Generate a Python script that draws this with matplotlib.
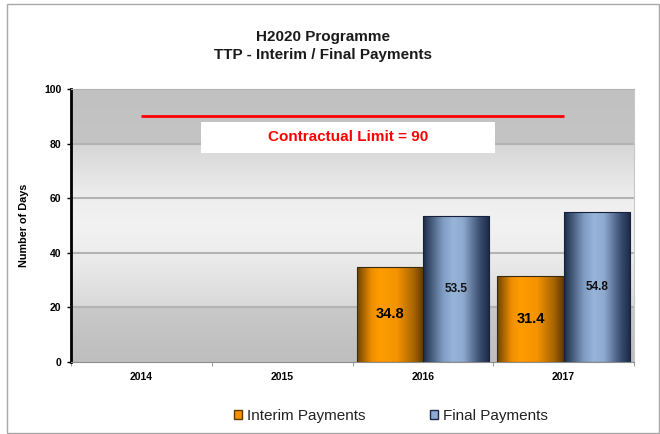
import numpy as np
import matplotlib
matplotlib.use("Agg")
import matplotlib.pyplot as plt
from matplotlib.colors import LinearSegmentedColormap
from matplotlib.patches import Rectangle

# ---- data ----
years = ["2014", "2015", "2016", "2017"]
interim = [np.nan, np.nan, 34.8, 31.4]
final = [np.nan, np.nan, 53.5, 54.8]
limit_value = 90
limit_label = "Contractual Limit = 90"
title_lines = ["H2020 Programme", "TTP - Interim / Final Payments"]
ylabel = "Number of Days"
series_names = ["Interim Payments", "Final Payments"]
yticks = [0, 20, 40, 60, 80, 100]

plt.rcParams['font.family'] = ['Liberation Sans', 'DejaVu Sans']

W, H = 660, 434
fig = plt.figure(figsize=(W / 100, H / 100), dpi=100)
fig.patch.set_facecolor('white')

ax = fig.add_axes([71 / W, 1 - 362 / H, (634 - 71) / W, (362 - 89) / H])

# background gradient (fraction from bottom)
bg_cmap = LinearSegmentedColormap.from_list(
    'bg', [(0.0, '#BEBEBE'), (0.199, '#C9C9C9'), (0.2, '#D9D9D9'),
           (0.4, '#EDEDED'), (0.5, '#F2F2F2'), (0.6, '#EEEEEE'),
           (0.799, '#D6D6D6'), (0.8, '#C4C4C4'), (1.0, '#C1C1C1')])
bg = np.linspace(0, 1, 512).reshape(-1, 1)
ax.imshow(bg, extent=(0, 1, 0, 1), transform=ax.transAxes, cmap=bg_cmap,
          aspect='auto', zorder=0, origin='lower', interpolation='nearest')

x = np.arange(len(years))
bw = 0.47
orange_cmap = LinearSegmentedColormap.from_list(
    'or', [(0, '#6E4300'), (0.22, '#F09000'), (0.35, '#FF9C00'),
           (0.6, '#F59300'), (0.85, '#A86500'), (1, '#5E3A00')])
blue_cmap = LinearSegmentedColormap.from_list(
    'bl', [(0, '#1C2B47'), (0.3, '#7F9CC2'), (0.45, '#97B4D9'),
           (0.6, '#8FAAD0'), (0.85, '#3A4E70'), (1, '#1A2843')])

b1 = ax.bar(x - bw / 2, interim, bw, facecolor='none', edgecolor='#3A2A10',
            linewidth=0.8, zorder=3)
b2 = ax.bar(x + bw / 2, final, bw, facecolor='none', edgecolor='#15203A',
            linewidth=0.8, zorder=3)

grad = np.linspace(0, 1, 256).reshape(1, -1)
for bars, cm in ((b1, orange_cmap), (b2, blue_cmap)):
    for b in bars:
        h = b.get_height()
        if not np.isfinite(h):
            continue
        x0, w = b.get_x(), b.get_width()
        im = ax.imshow(grad, extent=(x0, x0 + w, 0, h), cmap=cm,
                       aspect='auto', zorder=2, interpolation='bicubic')
        im.set_clip_path(b)

# value labels
for i, v in enumerate(interim):
    if np.isfinite(v):
        ax.text(x[i] - bw / 2, v / 2, f"{v:.1f}", ha='center', va='center',
                fontsize=10.5, fontweight='bold', color='black', zorder=5)
for i, v in enumerate(final):
    if np.isfinite(v):
        ax.text(x[i] + bw / 2, v / 2, f"{v:.1f}", ha='center', va='center',
                fontsize=8.5, fontweight='bold', color='#111111', zorder=5)

# contractual limit line
ax.hlines(limit_value, x[0], x[-1], color='#FF0000', linewidth=2, zorder=4)
ax.add_patch(Rectangle((0.424, 76.6), 2.51 - 0.424, 87.9 - 76.6,
                       facecolor='white', edgecolor='none', zorder=4))
ax.text((0.424 + 2.51) / 2, 82.6, limit_label, ha='center', va='center',
        fontsize=11, fontweight='bold', color='#FF0000', zorder=5)

ax.set_xlim(-0.5, len(years) - 0.5)
ax.set_ylim(0, 100)
ax.set_yticks(yticks)
ax.set_yticklabels([str(t) for t in yticks], fontsize=7.5, fontweight='bold')
ax.set_xticks(x)
ax.set_xticklabels(years, fontsize=7.5, fontweight='bold')
ax.set_xticks(np.arange(-0.5, len(years)), minor=True)
ax.tick_params(axis='x', which='major', length=0, pad=7)
ax.tick_params(axis='x', which='minor', length=3, color='#888888', direction='out')
ax.tick_params(axis='y', length=3, width=1, color='black', direction='out', pad=4)
for yv in yticks[1:-1]:
    ax.axhline(yv, color='#B3B3B3', linewidth=1.5, zorder=1)

ax.spines['left'].set_color('black')
ax.spines['left'].set_linewidth(2)
ax.spines['bottom'].set_color('#8C8C8C')
ax.spines['top'].set_color('#B0B0B0')
ax.spines['right'].set_color('#C8C8C8')

fig.text(24 / W, 1 - 225 / H, ylabel, rotation=90, ha='center', va='center',
         fontsize=7.8, fontweight='bold')

fig.text(323 / W, 1 - 37 / H, title_lines[0], ha='center', va='center',
         fontsize=11, fontweight='bold', color='#1A1A1A')
fig.text(323 / W, 1 - 55 / H, title_lines[1], ha='center', va='center',
         fontsize=11, fontweight='bold', color='#1A1A1A')

# legend
h1 = Rectangle((0, 0), 1, 1, facecolor='#F39200', edgecolor='#5E3A00', linewidth=1)
h2 = Rectangle((0, 0), 1, 1, facecolor='#8FAAD0', edgecolor='#1A2843', linewidth=1)
fig.legend([h1, h2], series_names, loc='center', ncol=2,
           bbox_to_anchor=(391 / W, 1 - 416 / H), frameon=False, fontsize=11,
           handlelength=0.5, handleheight=0.5, handletextpad=0.35,
           columnspacing=4.2, labelcolor='#222222')

# figure border
fig.patches.append(Rectangle((7 / W, 1 / H), (659 - 7) / W, (430 - 1) / H,
                             transform=fig.transFigure, facecolor='none',
                             edgecolor='#A8A8A8', linewidth=1))

fig.savefig('out.png', dpi=100)
